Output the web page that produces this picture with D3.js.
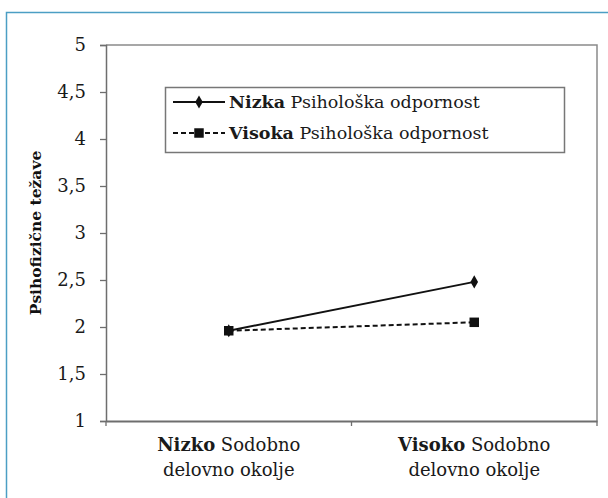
<!DOCTYPE html>
<html><head><meta charset="utf-8">
<script src="https://cdn.jsdelivr.net/npm/d3@7"></script>
<style>body{margin:0;background:#fff}svg{display:block}</style>
</head><body>
<svg id="c" width="608" height="498"></svg>
<script>
const categories = [["Nizko", " Sodobno", "delovno okolje"], ["Visoko", " Sodobno", "delovno okolje"]];
const seriesNames = [["Nizka", " Psihološka odpornost"], ["Visoka", " Psihološka odpornost"]];
const nizkaValues = [1.96, 2.48];
const visokaValues = [1.96, 2.05];
const yTicks = [1, 1.5, 2, 2.5, 3, 3.5, 4, 4.5, 5];
const yTitle = "Psihofizične težave";

const svg = d3.select("#c");
const font = "DejaVu Serif";
const ink = "#1a1a1a";
const L = 106, R = 597, T = 45, B = 421;

// outer frame
svg.append("path").attr("d", "M6.5,520 V12.5 H620").attr("fill", "none")
  .attr("stroke", "#4b9ec4").attr("stroke-width", 1.5);

const x = d3.scaleBand().domain([0, 1]).range([L, R]);
const y = d3.scaleLinear().domain([1, 5]).range([B, T]);

// plot frame (top/right)
svg.append("path").attr("d", `M${L},${T} H${R} V${B}`).attr("fill", "none")
  .attr("stroke", "#8a8a8a").attr("stroke-width", 1.5);

// y axis
const ya = svg.append("g").attr("transform", `translate(${L},0)`)
  .call(d3.axisLeft(y).tickValues(yTicks).tickSize(6).tickPadding(14)
    .tickFormat(d => String(d).replace(".", ",")));
ya.select(".domain").attr("stroke", "#6e6e6e").attr("stroke-width", 1.5);
ya.selectAll(".tick line").attr("stroke", "#6e6e6e").attr("stroke-width", 1.3);
ya.selectAll("text").attr("font-family", font).attr("font-size", 18).attr("fill", ink);

// x axis
const xa = svg.append("g").attr("transform", `translate(0,${B})`)
  .call(d3.axisBottom(x).tickValues([]).tickSizeOuter(0));
xa.select(".domain").attr("stroke", "#6e6e6e").attr("stroke-width", 2);
// category boundary ticks
[L, x(1), R].forEach(px => {
  svg.append("line").attr("x1", px).attr("x2", px).attr("y1", B).attr("y2", B + 5)
    .attr("stroke", "#6e6e6e").attr("stroke-width", 1.3);
});
categories.forEach((c, i) => {
  const cx = x(i) + x.bandwidth() / 2;
  const t = svg.append("text").attr("x", cx).attr("y", 451).attr("text-anchor", "middle")
    .attr("font-family", font).attr("font-size", 18).attr("fill", ink);
  t.append("tspan").attr("font-weight", "bold").text(c[0]);
  t.append("tspan").text(c[1]);
  svg.append("text").attr("x", cx).attr("y", 476).attr("text-anchor", "middle")
    .attr("font-family", font).attr("font-size", 18).attr("fill", ink).text(c[2]);
});

// y title
svg.append("text").attr("transform", `translate(41,${(T + B) / 2}) rotate(-90)`)
  .attr("text-anchor", "middle").attr("font-family", font).attr("font-weight", "bold")
  .attr("font-size", 15.5).attr("fill", "#111").text(yTitle);

const cxs = [0, 1].map(i => x(i) + x.bandwidth() / 2);
const line = d3.line().x((d, i) => cxs[i]).y(d => y(d));

svg.append("path").datum(visokaValues).attr("d", line).attr("fill", "none")
  .attr("stroke", "#111").attr("stroke-width", 2).attr("stroke-dasharray", "5,3");
svg.append("path").datum(nizkaValues).attr("d", line).attr("fill", "none")
  .attr("stroke", "#111").attr("stroke-width", 2);

const diamond = d3.symbol().type(d3.symbolDiamond).size(50);
const square = d3.symbol().type(d3.symbolSquare).size(90);
svg.selectAll(".mv").data(visokaValues).join("path")
  .attr("transform", (d, i) => `translate(${cxs[i]},${y(d)})`).attr("d", square).attr("fill", "#111");
svg.selectAll(".mn").data(nizkaValues).join("path")
  .attr("transform", (d, i) => `translate(${cxs[i]},${y(d)})`).attr("d", diamond).attr("fill", "#111");

// legend
svg.append("rect").attr("x", 165.5).attr("y", 87.5).attr("width", 399).attr("height", 65)
  .attr("fill", "#fff").attr("stroke", "#777").attr("stroke-width", 1.5);
seriesNames.forEach((s, i) => {
  const ly = 102 + i * 31;
  svg.append("line").attr("x1", 173).attr("x2", 225).attr("y1", ly).attr("y2", ly)
    .attr("stroke", "#111").attr("stroke-width", 2).attr("stroke-dasharray", i ? "5,3" : null);
  svg.append("path").attr("transform", `translate(199,${ly})`).attr("d", i ? square : diamond).attr("fill", "#111");
  const t = svg.append("text").attr("x", 229).attr("y", ly + 6).attr("font-family", font)
    .attr("font-size", 17.5).attr("fill", ink);
  t.append("tspan").attr("font-weight", "bold").text(s[0]);
  t.append("tspan").text(s[1]);
});
</script>
</body></html>
